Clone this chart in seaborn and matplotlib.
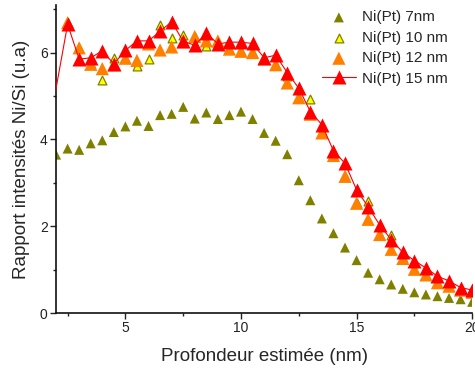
import matplotlib
matplotlib.use("Agg")
import matplotlib.pyplot as plt
from matplotlib.ticker import MultipleLocator
import seaborn as sns
import pandas as pd

sns.set_style("ticks")
plt.rcParams['font.family'] = ['Liberation Sans', 'DejaVu Sans']

x_7 = [2.0, 2.5, 3.0, 3.5, 4.0, 4.5, 5.0, 5.5, 6.0, 6.5, 7.0, 7.5, 8.0, 8.5, 9.0, 9.5,
       10.0, 10.5, 11.0, 11.5, 12.0, 12.5, 13.0, 13.5, 14.0, 14.5, 15.0, 15.5, 16.0,
       16.5, 17.0, 17.5, 18.0, 18.5, 19.0, 19.5, 20.0]
y_7 = [3.65, 3.79, 3.76, 3.91, 3.98, 4.17, 4.30, 4.43, 4.31, 4.56, 4.59, 4.75, 4.48, 4.62,
       4.47, 4.56, 4.64, 4.47, 4.15, 3.97, 3.66, 3.06, 2.60, 2.18, 1.84, 1.51, 1.22, 0.93,
       0.78, 0.66, 0.56, 0.48, 0.43, 0.39, 0.35, 0.32, 0.26]

x_10 = [2.5, 3.0, 3.5, 4.0, 4.5, 5.0, 5.5, 6.0, 6.5, 7.0, 7.5, 8.0, 8.5, 9.0, 9.5,
        10.0, 10.5, 11.0, 11.5, 12.0, 12.5, 13.0, 13.5, 14.0, 14.5, 15.0, 15.5, 16.0,
        16.5, 17.0, 17.5, 18.0, 18.5, 19.0, 19.5, 20.0]
y_10 = [6.69, 6.11, 5.73, 5.38, 5.88, 5.87, 5.70, 5.85, 6.63, 6.34, 6.40, 6.37, 6.15, 6.25,
        6.08, 6.03, 6.00, 5.86, 5.72, 5.46, 4.96, 4.93, 4.15, 3.63, 3.15, 2.53, 2.59, 1.81,
        1.80, 1.26, 1.01, 0.88, 0.70, 0.62, 0.53, 0.48]

x_12 = [2.5, 3.0, 3.5, 4.0, 4.5, 5.0, 5.5, 6.0, 6.5, 7.0, 7.5, 8.0, 8.5, 9.0, 9.5,
        10.0, 10.5, 11.0, 11.5, 12.0, 12.5, 13.0, 13.5, 14.0, 14.5, 15.0, 15.5, 16.0,
        16.5, 17.0, 17.5, 18.0, 18.5, 19.0, 19.5, 20.0]
y_12 = [6.69, 6.11, 5.73, 5.63, 5.72, 5.87, 5.82, 6.20, 6.06, 6.13, 6.25, 6.37, 6.27, 6.27,
        6.08, 6.03, 6.00, 5.86, 5.72, 5.30, 4.96, 4.58, 4.15, 3.63, 3.15, 2.53, 2.16, 1.81,
        1.47, 1.26, 1.01, 0.88, 0.70, 0.62, 0.53, 0.48]

x_15 = [1.5, 2.5, 3.0, 3.5, 4.0, 4.5, 5.0, 5.5, 6.0, 6.5, 7.0, 7.5, 8.0, 8.5, 9.0, 9.5,
        10.0, 10.5, 11.0, 11.5, 12.0, 12.5, 13.0, 13.5, 14.0, 14.5, 15.0, 15.5, 16.0,
        16.5, 17.0, 17.5, 18.0, 18.5, 19.0, 19.5, 20.0]
y_15 = [3.70, 6.65, 5.85, 5.88, 6.04, 5.74, 6.05, 6.27, 6.27, 6.49, 6.71, 6.26, 6.17, 6.45,
        6.20, 6.24, 6.24, 6.21, 5.88, 5.94, 5.54, 5.18, 4.64, 4.34, 3.74, 3.45, 2.84, 2.45,
        2.03, 1.69, 1.40, 1.21, 1.04, 0.85, 0.74, 0.59, 0.53]

labels = ["Ni(Pt) 7nm", "Ni(Pt) 10 nm", "Ni(Pt) 12 nm", "Ni(Pt) 15 nm"]

fig = plt.figure(figsize=(4.75, 3.71), dpi=100)
ax = fig.add_axes([0.118, 0.156, 0.876, 0.831])

sns.scatterplot(x=x_7, y=y_7, ax=ax, marker='^', s=52, color='#808000',
                edgecolor='none', linewidth=0, label=labels[0], zorder=2)
sns.scatterplot(x=x_10, y=y_10, ax=ax, marker='^', s=40, color='#FFFF00',
                edgecolor='#808000', linewidth=0.9, label=labels[1], zorder=3)
sns.scatterplot(x=x_12, y=y_12, ax=ax, marker='^', s=90, color='#FF8000',
                edgecolor='none', linewidth=0, label=labels[2], zorder=4)
sns.lineplot(x=x_15, y=y_15, ax=ax, marker='^', markersize=9.5, color='#FF0000',
             markeredgecolor='none', linewidth=0.8, label=labels[3], zorder=5,
             sort=False)

ax.set_xlim(2, 20)
ax.set_ylim(0, 7.1)
ax.xaxis.set_major_locator(MultipleLocator(5))
ax.xaxis.set_minor_locator(MultipleLocator(2.5))
ax.yaxis.set_major_locator(MultipleLocator(2))
ax.yaxis.set_minor_locator(MultipleLocator(1))
ax.tick_params(axis='both', which='major', direction='out', length=4, width=1,
               labelsize=10, colors='#222222', pad=2)
ax.tick_params(axis='both', which='minor', direction='out', length=2.5, width=1,
               colors='#222222')
for s in ['left', 'bottom']:
    ax.spines[s].set_linewidth(1.2)
    ax.spines[s].set_color('#111111')
sns.despine(ax=ax)

ax.set_xlabel("Profondeur estimée (nm)", fontsize=13.5, labelpad=9)
ax.set_ylabel("Rapport intensités Ni/Si (u.a)", fontsize=13.5, labelpad=7)

ax.legend(loc='upper left', bbox_to_anchor=(0.678, 0.972), bbox_transform=fig.transFigure,
          frameon=False, fontsize=11, handlelength=2.2, handletextpad=0.4,
          labelspacing=0.42, borderpad=0, borderaxespad=0)

fig.savefig("out.png", dpi=100)
